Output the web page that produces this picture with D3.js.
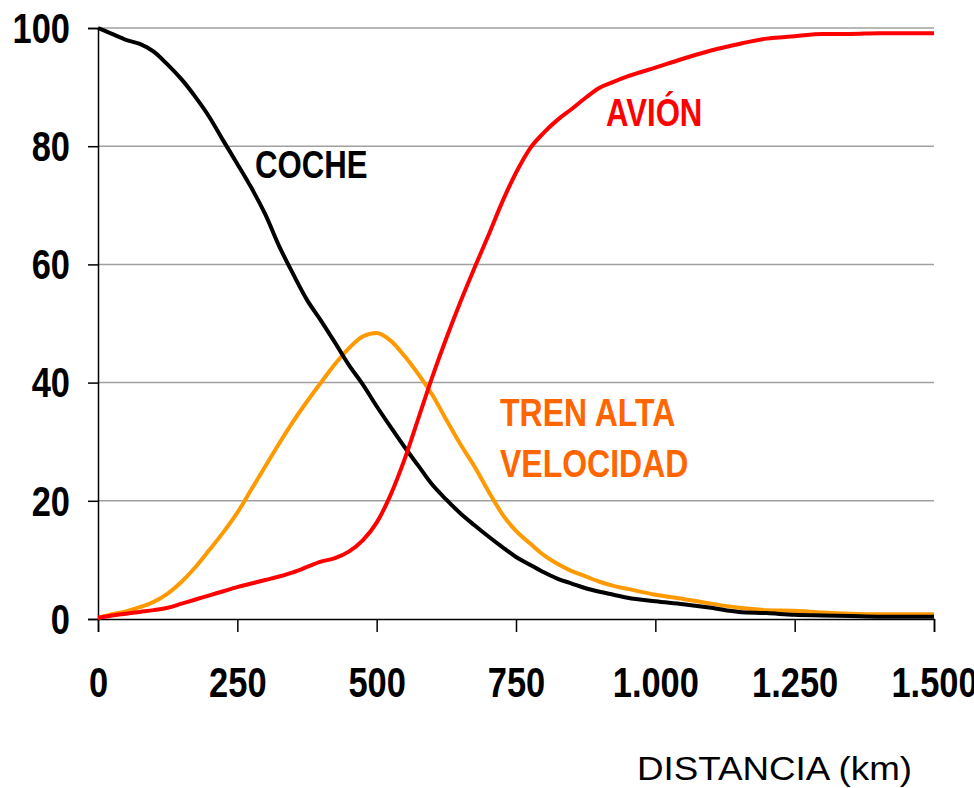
<!DOCTYPE html>
<html>
<head>
<meta charset="utf-8">
<script src="https://cdn.jsdelivr.net/npm/d3@7"></script>
<style>
    body { margin: 0; background: #fff; }
    .tick-label { font-family: "Liberation Sans", Arial, sans-serif; font-weight: bold; font-size: 42px; }
    .serie-label { font-family: "Liberation Sans", Arial, sans-serif; font-weight: bold; }
</style>
</head>
<body>
<div id="content"></div>
<script>
// Distancia (km) y cuota de cada modo (%)
var distancias = [0, 25, 50, 75, 100, 125, 150, 175, 200, 225, 250, 275, 300, 325, 350, 375, 400, 425, 450, 475,
    500, 525, 550, 575, 600, 625, 650, 675, 700, 725, 750, 775, 800, 825, 850, 875, 900, 925, 950,
    1000, 1050, 1100, 1150, 1200, 1250, 1300, 1350, 1400, 1450, 1500];

var coche = [100, 99.0, 98.0, 97.3, 96.0, 93.8, 91.3, 88.3, 84.9, 80.9, 77.0, 73.0, 68.5, 63.1, 58.4, 54.0, 50.5, 46.8, 43.0, 39.7,
    36.0, 32.5, 29.1, 25.9, 22.7, 20.2, 17.9, 15.9, 14.0, 12.2, 10.5, 9.2, 7.9, 6.8, 6.0, 5.2, 4.6, 4.1, 3.6,
    3.0, 2.5, 1.9, 1.2, 1.0, 0.7, 0.6, 0.5, 0.4, 0.4, 0.4];

var avion = [0.2, 0.6, 0.9, 1.2, 1.5, 1.9, 2.6, 3.3, 4.0, 4.7, 5.4, 6.0, 6.6, 7.2, 7.9, 8.8, 9.7, 10.3, 11.4, 13.3,
    16.3, 21.0, 27.0, 34.0, 41.0, 47.5, 53.6, 59.3, 64.8, 70.5, 75.5, 79.6, 82.3, 84.5, 86.3, 88.2, 89.9, 90.9, 91.8,
    93.3, 94.8, 96.2, 97.3, 98.2, 98.6, 99.0, 99.0, 99.1, 99.1, 99.1];

var tren = [0.2, 0.8, 1.3, 2.0, 2.9, 4.3, 6.3, 8.8, 11.7, 14.7, 18.0, 21.9, 25.8, 29.7, 33.4, 36.8, 40.0, 43.1, 45.8, 47.8,
    48.4, 47.1, 44.5, 41.4, 37.9, 33.7, 29.6, 25.9, 21.7, 17.8, 14.9, 12.8, 10.8, 9.3, 8.1, 7.2, 6.3, 5.6, 5.1,
    4.1, 3.4, 2.6, 1.9, 1.5, 1.4, 1.1, 0.9, 0.8, 0.8, 0.8];

var xTicks = [0, 250, 500, 750, 1000, 1250, 1500];
var xTickLabels = ["0", "250", "500", "750", "1.000", "1.250", "1.500"];
var yTicks = [0, 20, 40, 60, 80, 100];

(() => {
    var W = 974, H = 788;
    var margin = { top: 28, right: 40, bottom: 169, left: 98 };

    var x = d3.scaleLinear().domain([0, 1500]).range([margin.left, W - margin.right]);
    var y = d3.scaleLinear().domain([0, 100]).range([H - margin.bottom, margin.top]);

    // the original uses a narrow bold face: squeeze the text horizontally
    function narrow(sel, k) {
        sel.each(function () {
            var w = this.getComputedTextLength();
            d3.select(this)
                .attr("textLength", w * k)
                .attr("lengthAdjust", "spacingAndGlyphs");
        });
    }

    var svg = d3.select("#content").append("svg")
        .attr("width", W)
        .attr("height", H);

    // gridlines
    svg.append("g").selectAll("line")
        .data(yTicks.filter(function (d) { return d > 0; }))
        .enter().append("line")
        .attr("x1", x(0)).attr("x2", x(1500))
        .attr("y1", function (d) { return y(d); })
        .attr("y2", function (d) { return y(d); })
        .attr("stroke", "#a0a0a0")
        .attr("stroke-width", 1.5);

    // y axis
    var yAxis = d3.axisLeft(y).tickValues(yTicks).tickSize(10).tickPadding(18).tickFormat(d3.format("d"));
    var gy = svg.append("g")
        .attr("transform", "translate(" + x(0) + ",0)")
        .call(yAxis);
    gy.select(".domain").attr("stroke", "#000").attr("stroke-width", 1.5);
    gy.selectAll(".tick line").attr("stroke", "#000").attr("stroke-width", 1.5);
    gy.selectAll(".tick text")
        .attr("class", "tick-label")
        .attr("fill", "#000")
        .attr("dy", "0.34em")
        .call(narrow, 0.82);

    // x axis
    var xAxis = d3.axisBottom(x).tickValues(xTicks).tickSize(13).tickPadding(35)
        .tickFormat(function (d, i) { return xTickLabels[i]; });
    var gx = svg.append("g")
        .attr("transform", "translate(0," + y(0) + ")")
        .call(xAxis);
    gx.select(".domain").attr("stroke", "#000").attr("stroke-width", 1.5);
    gx.selectAll(".tick line").attr("stroke", "#000").attr("stroke-width", 1.5);
    gx.selectAll(".tick text")
        .attr("class", "tick-label")
        .attr("fill", "#000")
        .call(narrow, 0.82);

    // curves
    var series = [
        { name: "tren", values: tren, color: "#ff9900" },
        { name: "coche", values: coche, color: "#000000" },
        { name: "avion", values: avion, color: "#ff0000" }
    ];

    var line = d3.line()
        .x(function (d) { return x(d[0]); })
        .y(function (d) { return y(d[1]); })
        .curve(d3.curveMonotoneX);

    svg.append("g").selectAll("path")
        .data(series)
        .enter().append("path")
        .attr("fill", "none")
        .attr("stroke", function (d) { return d.color; })
        .attr("stroke-width", 4)
        .attr("stroke-linejoin", "round")
        .attr("d", function (d) {
            return line(distancias.map(function (km, i) { return [km, d.values[i]]; }));
        });

    // labels on the chart
    var labels = [
        { text: "COCHE", x: 255, y: 178, color: "#000000", size: 38 },
        { text: "AVIÓN", x: 606, y: 126, color: "#ff0000", size: 38 },
        { text: "TREN ALTA", x: 500, y: 426, color: "#ff6600", size: 39 },
        { text: "VELOCIDAD", x: 500, y: 477, color: "#ff6600", size: 39 }
    ];
    svg.append("g").selectAll("text")
        .data(labels)
        .enter().append("text")
        .attr("class", "serie-label")
        .attr("x", function (d) { return d.x; })
        .attr("y", function (d) { return d.y; })
        .attr("fill", function (d) { return d.color; })
        .style("font-size", function (d) { return d.size + "px"; })
        .text(function (d) { return d.text; })
        .call(narrow, 0.82);

    // axis title
    svg.append("text")
        .attr("x", 637)
        .attr("y", 780)
        .attr("textLength", 275)
        .attr("lengthAdjust", "spacingAndGlyphs")
        .style("font-family", "'Liberation Sans', Arial, sans-serif")
        .style("font-size", "33px")
        .attr("fill", "#000")
        .text("DISTANCIA (km)");
})();
</script>
</body>
</html>
